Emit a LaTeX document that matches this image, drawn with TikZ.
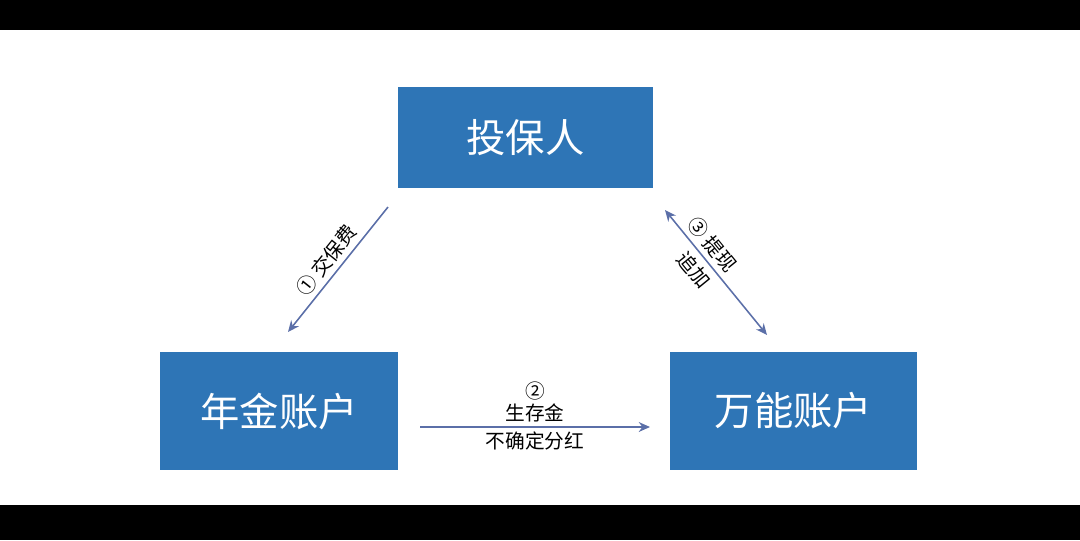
\documentclass[tikz,border=0pt]{standalone}
\usepackage{fontspec}
\setmainfont{Noto Sans CJK SC}
\usetikzlibrary{arrows.meta}
\definecolor{boxblue}{HTML}{2E75B6}
\definecolor{arrowblue}{HTML}{5B6FA8}
\tikzset{
  acct/.style={fill=boxblue,text=white,font=\fontsize{56}{60}\selectfont},
  flow/.style={draw=arrowblue,line width=2.2pt,-{Stealth[length=16pt,width=14pt]}},
  lbl/.style={font=\fontsize{28}{32}\selectfont}
}
\begin{document}
\begin{tikzpicture}[x=0.05cm,y=-0.05cm]
		% frame
		\fill[black] (0,0) rectangle (1080,540);
		\fill[white] (0,30) rectangle (1080,505);

		% accounts
		\node[acct,minimum width=255*0.05cm,minimum height=101*0.05cm] (holder) at (525.5,137.5) {投保人};
		\node[acct,minimum width=238*0.05cm,minimum height=118*0.05cm] (annuity) at (279,411) {年金账户};
		\node[acct,minimum width=247*0.05cm,minimum height=118*0.05cm] (universal) at (793.5,411) {万能账户};

		% connectors
		\coordinate (a1) at (388,207);
		\coordinate (a2) at (288,332);
		\coordinate (b1) at (665,210);
		\coordinate (b2) at (767,335);
		\coordinate (c1) at (420,427);
		\coordinate (c2) at (650,427);
		\draw[flow] (a1) -- (a2)
			node[midway,lbl,sloped,above=4pt] {① 交保费};
		\draw[flow,{Stealth[length=16pt,width=14pt]}-{Stealth[length=16pt,width=14pt]}] (b1) -- (b2)
			node[pos=0.35,lbl,sloped,above=4pt] {③ 提现}
			node[pos=0.4,lbl,sloped,below=4pt] {追加};
		\draw[flow] (c1) -- (c2)
			node[midway,lbl,above=2pt,align=center] {②\\生存金}
			node[midway,lbl,below=2pt] {不确定分红};
	\end{tikzpicture}
\end{document}
